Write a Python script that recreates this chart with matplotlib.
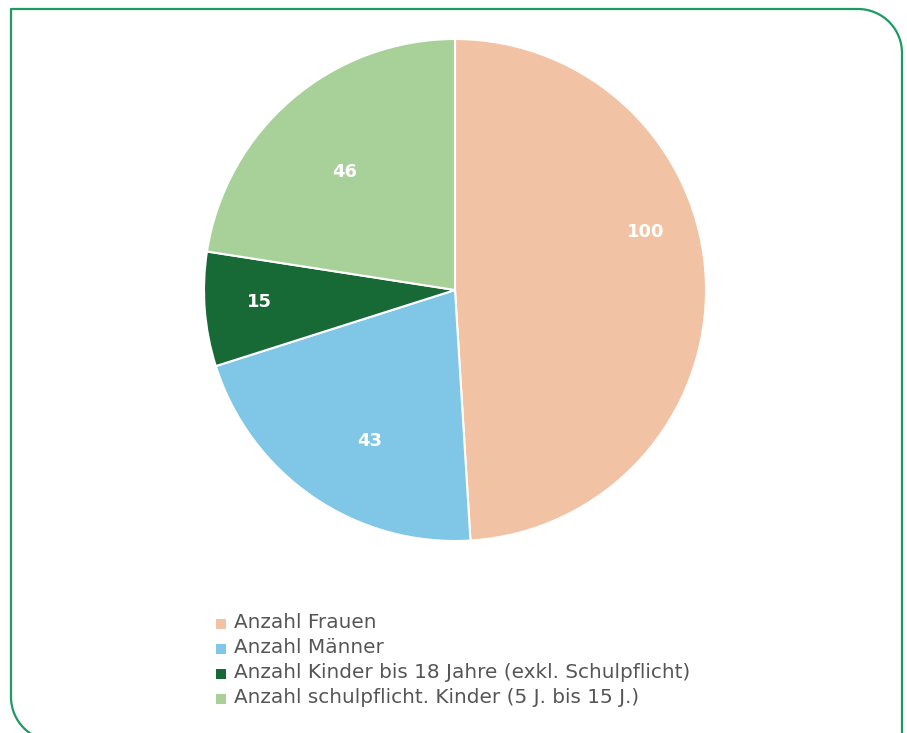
"""Pie chart: Anzahl Personen
"""
import matplotlib.pyplot as plt
from matplotlib.patches import Arc, Rectangle

labels = ['Anzahl Frauen', 'Anzahl Männer',
          'Anzahl Kinder bis 18 Jahre (exkl. Schulpflicht)',
          'Anzahl schulpflicht. Kinder (5 J. bis 15 J.)']
values = [100, 43, 15, 46]
colors = ['#F2C2A4', '#80C6E7', '#176A36', '#A8D19A']

# where the value labels sit (axes data units, pie radius = 1)
label_pos = [(0.761, 0.233), (-0.34, -0.60), (-0.78, -0.048), (-0.44, 0.47)]

W, H = 907, 733
fig = plt.figure(figsize=(W / 100, H / 100), dpi=100)

# green frame, pixel coordinates (y goes down)
frame_ax = fig.add_axes([0, 0, 1, 1])
frame_ax.set_xlim(0, W)
frame_ax.set_ylim(H, 0)
frame_ax.axis('off')
green = '#1E9A62'
x0, y0, x1 = 11, 9, 902
r = 44
frame_ax.plot([x0, x0, x1 - r], [697, y0, y0], color=green, lw=1.6, solid_capstyle='butt')
frame_ax.plot([x1, x1], [y0 + r, H + 5], color=green, lw=1.6, solid_capstyle='butt')
frame_ax.add_patch(Arc((x1 - r, y0 + r), 2 * r, 2 * r, theta1=270, theta2=360, color=green, lw=1.6))
frame_ax.add_patch(Arc((x0 + r, 697), 2 * r, 2 * r, theta1=90, theta2=180, color=green, lw=1.6))

# pie
cx, cy, rad = 455, 290, 251
ax = fig.add_axes([(cx - rad) / W, (H - cy - rad) / H, 2 * rad / W, 2 * rad / H])
ax.pie(values, colors=colors, startangle=90, counterclock=False,
       wedgeprops=dict(edgecolor='white', linewidth=1.5))
ax.set_xlim(-1, 1)
ax.set_ylim(-1, 1)
ax.set_aspect('equal')
for v, (tx, ty) in zip(values, label_pos):
    ax.text(tx, ty, str(v), ha='center', va='center', color='white',
            fontsize=13, fontweight='bold', family='DejaVu Sans')

# legend, drawn by hand
for i, (lab, c) in enumerate(zip(labels, colors)):
    base = 628 + i * 25
    frame_ax.add_patch(Rectangle((216, base - 9.5), 10, 10, facecolor=c, edgecolor='none'))
    frame_ax.text(234, base, lab, ha='left', va='baseline', color='#555555',
                  fontsize=14.4, family='DejaVu Sans')

fig.savefig('out.png', dpi=100, facecolor='white')
